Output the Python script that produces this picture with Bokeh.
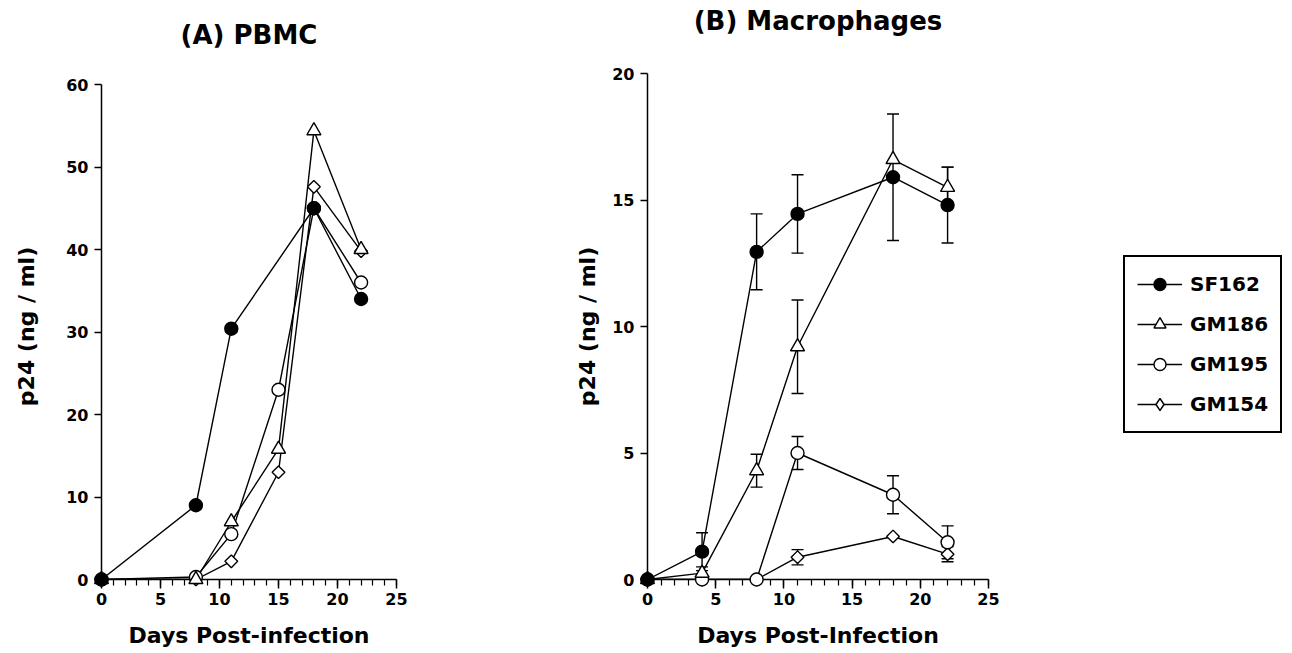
import math
from bokeh.plotting import figure
from bokeh.models import (ColumnDataSource, Whisker, TeeHead, Legend, LegendItem,
                          SingleIntervalTicker, FixedTicker, Title)
from bokeh.layouts import row
from bokeh.embed import file_html
from bokeh.resources import INLINE

FONT = "DejaVu Sans"

# ---------------- data: (A) PBMC ----------------
a_sf162_days = [0, 8, 11, 18, 22]
a_sf162_p24 = [0, 9.0, 30.4, 45.0, 34.0]
a_gm186_days = [0, 8, 11, 15, 18, 22]
a_gm186_p24 = [0, 0.0, 7.0, 15.8, 54.4, 40.0]
a_gm195_days = [0, 8, 11, 15, 18, 22]
a_gm195_p24 = [0, 0.3, 5.5, 23.0, 45.0, 36.0]
a_gm154_days = [0, 8, 11, 15, 18, 22]
a_gm154_p24 = [0, 0.0, 2.2, 13.0, 47.6, 39.8]

# ---------------- data: (B) Macrophages ----------------
b_days = [0, 4, 8, 11, 18, 22]
b_sf162_p24 = [0, 1.1, 12.95, 14.45, 15.9, 14.8]
b_sf162_err = [0, 0.75, 1.5, 1.55, 2.5, 1.5]
b_gm186_p24 = [0, 0.25, 4.3, 9.2, 16.6, 15.5]
b_gm186_err = [0, 0.25, 0.65, 1.85, 0, 0.8]
b_gm195_p24 = [0, 0.0, 0.0, 5.0, 3.35, 1.47]
b_gm195_err = [0, 0, 0, 0.65, 0.75, 0.65]
b_gm154_p24 = [0, 0.0, 0.0, 0.88, 1.7, 1.0]
b_gm154_err = [0, 0, 0, 0.3, 0, 0.3]

x_ticks_interval = 5
a_y_ticks = [0, 10, 20, 30, 40, 50, 60]
b_y_ticks = [0, 5, 10, 15, 20]
series_names = ["SF162", "GM186", "GM195", "GM154"]

STYLE = {
    "SF162": dict(marker="circle", size=13, fill_color="black", angle=0.0),
    "GM186": dict(marker="triangle", size=14, fill_color="white", angle=0.0),
    "GM195": dict(marker="circle", size=13, fill_color="white", angle=0.0),
    "GM154": dict(marker="square", size=9, fill_color="white", angle=math.pi / 4),
}
LW = 1.4
H = 651
FRAME_TOP = 73
FRAME_BOTTOM = 579


def make_fig(width, bl, br, xr, yr):
    p = figure(width=width, height=H, x_range=xr, y_range=yr,
               output_backend="svg", toolbar_location=None,
               min_border_left=bl, min_border_right=br,
               min_border_top=FRAME_TOP, min_border_bottom=H - FRAME_BOTTOM)
    p.outline_line_color = None
    p.xgrid.visible = False
    p.ygrid.visible = False
    p.background_fill_color = "white"
    p.border_fill_color = "white"
    return p


def add_title(p, text, gap):
    # blank spacer next to the frame, then the title above it
    p.add_layout(Title(text=" ", text_font_size="1px", standoff=gap), "above")
    p.add_layout(Title(text=text, align="center", vertical_align="top", standoff=0,
                       text_font=FONT, text_font_style="bold",
                       text_font_size="26px", text_color="black"), "above")


def style_axes(p, yticks, xlabel, ylabel, x_label_standoff, y_label_standoff):
    for ax in (p.xaxis[0], p.yaxis[0]):
        ax.axis_line_width = 1.5
        ax.axis_line_color = "black"
        ax.major_tick_line_width = 1.5
        ax.major_tick_line_color = "black"
        ax.minor_tick_line_width = 1.2
        ax.minor_tick_line_color = "black"
        ax.major_tick_in = 0
        ax.minor_tick_in = 0
        ax.major_label_text_font = FONT
        ax.major_label_text_font_style = "bold"
        ax.major_label_text_font_size = "16px"
        ax.major_label_text_color = "black"
        ax.axis_label_text_font = FONT
        ax.axis_label_text_font_style = "bold"
        ax.axis_label_text_font_size = "22px"
        ax.axis_label_text_color = "black"
    p.xaxis.ticker = SingleIntervalTicker(interval=x_ticks_interval, num_minor_ticks=5)
    p.xaxis.major_tick_out = 9
    p.xaxis.minor_tick_out = 6
    p.xaxis.major_label_standoff = 4
    p.xaxis.axis_label = xlabel
    p.xaxis.axis_label_standoff = x_label_standoff
    p.xaxis.bounds = (0, 25)
    p.yaxis.ticker = FixedTicker(ticks=yticks, minor_ticks=[])
    p.yaxis.major_tick_out = 7
    p.yaxis.minor_tick_out = 0
    p.yaxis.major_label_standoff = 6
    p.yaxis.axis_label = ylabel
    p.yaxis.axis_label_standoff = y_label_standoff
    p.yaxis.bounds = (yticks[0], yticks[-1])


def draw_series(p, data, visible=True, legend_markers=False, level="overlay"):
    lines, marks = {}, {}
    for name, xs, ys in data:
        lines[name] = p.line(xs, ys, line_color="black", line_width=LW, visible=visible)
    for name, xs, ys in data:
        st = STYLE[name]
        marker, size, angle = st["marker"], st["size"], st["angle"]
        if legend_markers and name == "GM154":
            marker, size, angle = "diamond", 12, 0.0
        marks[name] = p.scatter(xs, ys, marker=marker, size=size, angle=angle,
                                fill_color=st["fill_color"], line_color="black",
                                line_width=LW, level=level, visible=visible)
    return lines, marks


# ---------------- panel A ----------------
a_ppu = (FRAME_BOTTOM - 84) / 60.0
a_yr = (0, 60 + (84 - FRAME_TOP) / a_ppu)
pA = make_fig(560, 101, 164, (0, 25), a_yr)
add_title(pA, "(A) PBMC", 19)
style_axes(pA, a_y_ticks, "Days Post-infection", "p24 (ng / ml)", 15, 24)
draw_series(pA, [
    ("GM154", a_gm154_days, a_gm154_p24),
    ("GM195", a_gm195_days, a_gm195_p24),
    ("GM186", a_gm186_days, a_gm186_p24),
    ("SF162", a_sf162_days, a_sf162_p24),
])

# ---------------- panel B ----------------
pB = make_fig(440, 87, 12, (0, 25), (0, 20))
add_title(pB, "(B) Macrophages", 33)
style_axes(pB, b_y_ticks, "Days Post-Infection", "p24 (ng / ml)", 15, 9)

for vals, errs in [(b_gm154_p24, b_gm154_err), (b_gm195_p24, b_gm195_err),
                   (b_gm186_p24, b_gm186_err), (b_sf162_p24, b_sf162_err)]:
    xs = [d for d, e in zip(b_days, errs) if e > 0]
    lo = [v - e for v, e in zip(vals, errs) if e > 0]
    hi = [v + e for v, e in zip(vals, errs) if e > 0]
    src = ColumnDataSource(dict(x=xs, lower=lo, upper=hi))
    w = Whisker(source=src, base="x", lower="lower", upper="upper",
                dimension="height", line_color="black", line_width=LW,
                upper_head=TeeHead(size=12, line_color="black", line_width=LW),
                lower_head=TeeHead(size=12, line_color="black", line_width=LW))
    pB.add_layout(w)

b_series = [
    ("GM154", b_days, b_gm154_p24),
    ("GM195", b_days, b_gm195_p24),
    ("GM186", b_days, b_gm186_p24),
    ("SF162", b_days, b_sf162_p24),
]
draw_series(pB, b_series)

# ---------------- legend (own figure, to the right of panel B) ----------------
pC = make_fig(290, 0, 0, (0, 25), (0, 20))
pC.xaxis.visible = False
pC.yaxis.visible = False
linesC, marksC = draw_series(pC, b_series, visible=False, legend_markers=True,
                             level="glyph")
items = [LegendItem(label=n, renderers=[linesC[n], marksC[n]]) for n in series_names]
legend = Legend(items=items, location=(123, 146), orientation="vertical",
                glyph_width=45, glyph_height=30, label_height=30, spacing=10,
                padding=12, margin=0, label_standoff=8,
                label_text_font=FONT, label_text_font_style="bold",
                label_text_font_size="20px", label_text_color="black",
                border_line_color="black", border_line_width=2, border_line_alpha=1.0,
                background_fill_color="white", background_fill_alpha=1.0,
                inactive_fill_alpha=0.0)
pC.add_layout(legend)

layout = row(pA, pB, pC)
open("out.html", "w").write(file_html(layout, INLINE))
